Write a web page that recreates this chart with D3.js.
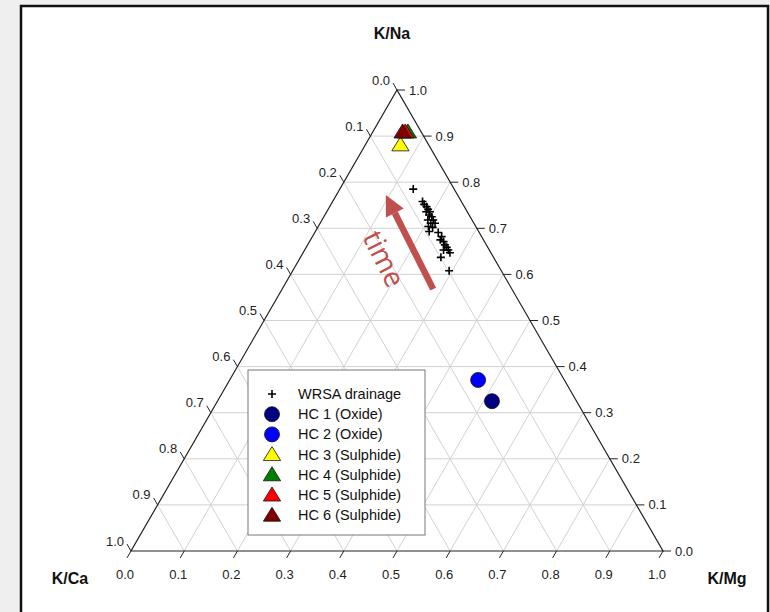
<!DOCTYPE html>
<html>
<head>
<meta charset="utf-8">
<script src="https://d3js.org/d3.v7.min.js"></script>
<style>
	body { margin: 0; background: #efefef; }
	svg { display: block; font-family: Arial, "Liberation Sans", sans-serif; }
</style>
</head>
<body>
<div id="chart"></div>
<script>

//=================== DATA ====================================
// every point given as [K/Mg, K/Na]; K/Ca = 1 - K/Mg - K/Na

var tickValues = [0, 0.1, 0.2, 0.3, 0.4, 0.5, 0.6, 0.7, 0.8, 0.9, 1.0];
var tickLabels = ["0.0", "0.1", "0.2", "0.3", "0.4", "0.5", "0.6", "0.7", "0.8", "0.9", "1.0"];

var wrsaDrainage = [
	[0.138, 0.785], [0.169, 0.758], [0.175, 0.752], [0.182, 0.747], [0.188, 0.741],
	[0.194, 0.736], [0.187, 0.736], [0.196, 0.729], [0.203, 0.725], [0.199, 0.718],
	[0.209, 0.718], [0.208, 0.711], [0.216, 0.711], [0.207, 0.704], [0.216, 0.702],
	[0.214, 0.693], [0.232, 0.691], [0.243, 0.682], [0.244, 0.675], [0.252, 0.671],
	[0.258, 0.664], [0.264, 0.659], [0.270, 0.653], [0.261, 0.653], [0.276, 0.647],
	[0.264, 0.637], [0.294, 0.608]
];

var hcNames = ["HC 1 (Oxide)", "HC 2 (Oxide)", "HC 3 (Sulphide)", "HC 4 (Sulphide)", "HC 5 (Sulphide)", "HC 6 (Sulphide)"];
var hcValues = [[0.516, 0.325], [0.467, 0.371], [0.066, 0.881], [0.066, 0.909], [0.061, 0.909], [0.056, 0.909]];
var hcShapes = ["circle", "circle", "triangle", "triangle", "triangle", "triangle"];
var hcColours = ["#000080", "#0000ff", "#ffff00", "#008000", "#ff0000", "#800000"];

// "time" annotation arrow, tail then tip
var timeArrow = [[0.284, 0.568], [0.093, 0.772]];

//=================== SET UP ====================================

var W = 770, H = 612;

var svg = d3.select("#chart").append("svg")
	.attr("width", W)
	.attr("height", H);

// page frame
svg.append("rect")
	.attr("x", 21).attr("y", 6)
	.attr("width", 747).attr("height", 620)
	.attr("fill", "#fff")
	.attr("stroke", "#111")
	.attr("stroke-width", 2.5);

// horizontal position along the base, vertical for K/Na
var xScale = d3.scaleLinear().domain([0, 1]).range([131, 663]);
var yScale = d3.scaleLinear().domain([0, 1]).range([551, 90]);

function project(b, c) {
	return [xScale(b + c / 2), yScale(c)];
}

var grp = svg.append("g");

//=================== GRID ====================================

var gridLines = [];
tickValues.slice(1, -1).forEach(function (v) {
	gridLines.push([project(0, v), project(1 - v, v)]);   // constant K/Na
	gridLines.push([project(v, 0), project(v, 1 - v)]);   // constant K/Mg
	gridLines.push([project(0, 1 - v), project(1 - v, 0)]); // constant K/Ca
});

grp.selectAll("line.grid")
	.data(gridLines)
	.enter().append("line")
	.classed("grid", true)
	.attr("x1", function (d) { return d[0][0]; })
	.attr("y1", function (d) { return d[0][1]; })
	.attr("x2", function (d) { return d[1][0]; })
	.attr("y2", function (d) { return d[1][1]; })
	.attr("stroke", "#d2d2d2")
	.attr("stroke-width", 1);

// outline
grp.append("path")
	.attr("d", "M" + project(0, 0) + "L" + project(1, 0) + "L" + project(0, 1) + "Z")
	.attr("fill", "none")
	.attr("stroke", "#222")
	.attr("stroke-width", 1.2);

//=================== AXES ====================================

var tickLen = 8, s60 = Math.sin(Math.PI / 3);

var axes = [
	// bottom: K/Mg, ticks down-left
	{ pos: function (v) { return project(v, 0); }, dx: -0.5, dy: s60, lx: -6, ly: 23, anchor: "middle" },
	// right: K/Na, ticks to the right
	{ pos: function (v) { return project(1 - v, v); }, dx: 1, dy: 0, lx: 12, ly: 0, anchor: "start" },
	// left: K/Ca, ticks up-left
	{ pos: function (v) { return project(0, 1 - v); }, dx: -0.5, dy: -s60, lx: -7, ly: -10, anchor: "end" }
];

axes.forEach(function (ax) {
	var g = grp.append("g");
	g.selectAll("line")
		.data(tickValues)
		.enter().append("line")
		.attr("x1", function (d) { return ax.pos(d)[0]; })
		.attr("y1", function (d) { return ax.pos(d)[1]; })
		.attr("x2", function (d) { return ax.pos(d)[0] + ax.dx * tickLen; })
		.attr("y2", function (d) { return ax.pos(d)[1] + ax.dy * tickLen; })
		.attr("stroke", "#222")
		.attr("stroke-width", 1);
	g.selectAll("text")
		.data(tickValues)
		.enter().append("text")
		.attr("x", function (d) { return ax.pos(d)[0] + ax.lx; })
		.attr("y", function (d) { return ax.pos(d)[1] + ax.ly; })
		.attr("text-anchor", ax.anchor)
		.attr("dominant-baseline", "central")
		.attr("font-size", 13)
		.attr("fill", "#222")
		.text(function (d, i) { return tickLabels[i]; });
});

// axis titles
var titles = [
	{ t: "K/Na", x: 392, y: 33 },
	{ t: "K/Ca", x: 70, y: 578 },
	{ t: "K/Mg", x: 727, y: 578 }
];
grp.selectAll("text.title")
	.data(titles)
	.enter().append("text")
	.classed("title", true)
	.attr("x", function (d) { return d.x; })
	.attr("y", function (d) { return d.y; })
	.attr("text-anchor", "middle")
	.attr("dominant-baseline", "central")
	.attr("font-size", 16)
	.attr("font-weight", "bold")
	.attr("fill", "#111")
	.text(function (d) { return d.t; });

//=================== SYMBOLS ====================================

function crossPath(x, y, r) {
	return "M" + (x - r) + "," + y + "H" + (x + r) + "M" + x + "," + (y - r) + "V" + (y + r);
}
function trianglePath(x, y, r) {
	return "M" + x + "," + (y - r) + "L" + (x + r * 1.08) + "," + (y + r * 0.75) + "L" + (x - r * 1.08) + "," + (y + r * 0.75) + "Z";
}

function drawSymbol(sel, shape, colour, x, y) {
	if (shape == "circle") {
		sel.append("circle")
			.attr("cx", x).attr("cy", y).attr("r", 7.5)
			.attr("fill", colour).attr("stroke", "#111").attr("stroke-width", 0.8);
	} else if (shape == "triangle") {
		sel.append("path")
			.attr("d", trianglePath(x, y, 8))
			.attr("fill", colour).attr("stroke", "#111").attr("stroke-width", 0.8);
	} else {
		sel.append("path")
			.attr("d", crossPath(x, y, 4))
			.attr("stroke", "#000").attr("stroke-width", 1.6);
	}
}

// WRSA drainage crosses
var wrsaGrp = grp.append("g");
wrsaDrainage.forEach(function (d) {
	var p = project(d[0], d[1]);
	drawSymbol(wrsaGrp, "cross", "#000", p[0], p[1]);
});

// humidity cell samples
var hcGrp = grp.append("g");
hcValues.forEach(function (d, i) {
	var p = project(d[0], d[1]);
	drawSymbol(hcGrp, hcShapes[i], hcColours[i], p[0], p[1]);
});

//=================== TIME ARROW ====================================

var tail = project(timeArrow[0][0], timeArrow[0][1]),
	tip = project(timeArrow[1][0], timeArrow[1][1]);
var ang = Math.atan2(tip[1] - tail[1], tip[0] - tail[0]);
var headLen = 20, headHalf = 10;
var neck = [tip[0] - headLen * Math.cos(ang), tip[1] - headLen * Math.sin(ang)];
var arrowColour = "#c0504d";

grp.append("line")
	.attr("x1", tail[0]).attr("y1", tail[1])
	.attr("x2", neck[0]).attr("y2", neck[1])
	.attr("stroke", arrowColour)
	.attr("stroke-width", 6.5);

grp.append("path")
	.attr("d", "M" + tip[0] + "," + tip[1]
		+ "L" + (neck[0] + headHalf * Math.sin(ang)) + "," + (neck[1] - headHalf * Math.cos(ang))
		+ "L" + (neck[0] - headHalf * Math.sin(ang)) + "," + (neck[1] + headHalf * Math.cos(ang)) + "Z")
	.attr("fill", arrowColour);

var mid = project(0.16, 0.635);
grp.append("text")
	.attr("transform", "translate(" + mid[0] + "," + mid[1] + ") rotate(" + (ang * 180 / Math.PI + 180) + ")")
	.attr("text-anchor", "middle")
	.attr("dominant-baseline", "central")
	.attr("font-family", "'Open Sans', sans-serif")
	.attr("font-size", 28)
	.attr("fill", arrowColour)
	.text("time");

//=================== LEGEND ====================================

var legendNames = ["WRSA drainage"].concat(hcNames);
var legendShapes = ["cross"].concat(hcShapes);
var legendColours = ["#000"].concat(hcColours);

var legend = grp.append("g");
legend.append("rect")
	.attr("x", 248).attr("y", 370)
	.attr("width", 177).attr("height", 165)
	.attr("fill", "#fff")
	.attr("stroke", "#777")
	.attr("stroke-width", 1);

legendNames.forEach(function (name, i) {
	var y = 394 + i * 20.2;
	drawSymbol(legend, legendShapes[i], legendColours[i], 272, y);
	legend.append("text")
		.attr("x", 298).attr("y", y)
		.attr("dominant-baseline", "central")
		.attr("font-size", 14.5)
		.attr("fill", "#111")
		.text(name);
});

</script>
</body>
</html>
